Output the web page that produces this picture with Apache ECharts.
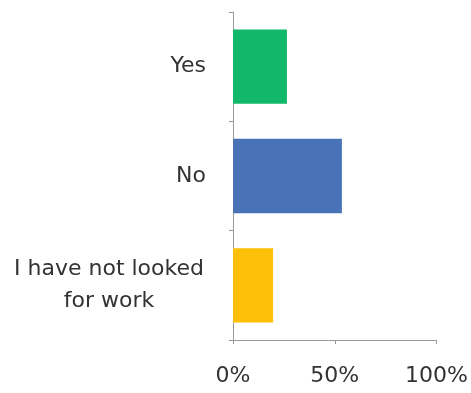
<!DOCTYPE html>
<html>
<head>
<meta charset="utf-8">
<script src="https://cdn.jsdelivr.net/npm/echarts@6/dist/echarts.min.js"></script>
<style>html,body{margin:0;padding:0;background:#fff}#c{width:471px;height:393px}</style>
</head>
<body>
<div id="c"></div>
<script>
const categories = ["Yes", "No", "I have not looked\nfor work"];
const values = [26.5, 53.5, 19.7];
const barColors = ["#12b86a", "#4a73b7", "#fdbf07"];
const xTicks = [0, 50, 100];

const font = {color: '#333333', fontFamily: 'DejaVu Sans', fontSize: 22, fontWeight: 'normal'};
const chart = echarts.init(document.getElementById('c'), null, {renderer: 'canvas'});
chart.setOption({
  animation: false,
  grid: {left: 233, right: 33, top: 12, bottom: 53, containLabel: false},
  xAxis: {
    type: 'value', min: 0, max: 100, interval: 50,
    axisLine: {show: true, lineStyle: {color: '#999', width: 1}},
    axisTick: {show: true, length: 4, lineStyle: {color: '#999'}},
    splitLine: {show: false},
    axisLabel: Object.assign({}, font, {
      margin: 25,
      formatter: v => xTicks.includes(v) ? v + '%' : ''
    })
  },
  yAxis: {
    type: 'category', inverse: true, data: categories,
    axisLine: {show: true, lineStyle: {color: '#999', width: 1}},
    axisTick: {show: true, length: 4, lineStyle: {color: '#999'}},
    axisLabel: Object.assign({}, font, {
      margin: 27,
      lineHeight: 32,
      formatter: v => v.indexOf('\n') >= 0 ? '{c|' + v + '}' : v,
      rich: {c: Object.assign({}, font, {width: 194, align: 'center', lineHeight: 32})}
    })
  },
  series: [{
    type: 'bar', barCategoryGap: '32%',
    data: values.map((v, i) => ({value: v, itemStyle: {color: barColors[i]}}))
  }]
});
</script>
</body>
</html>
